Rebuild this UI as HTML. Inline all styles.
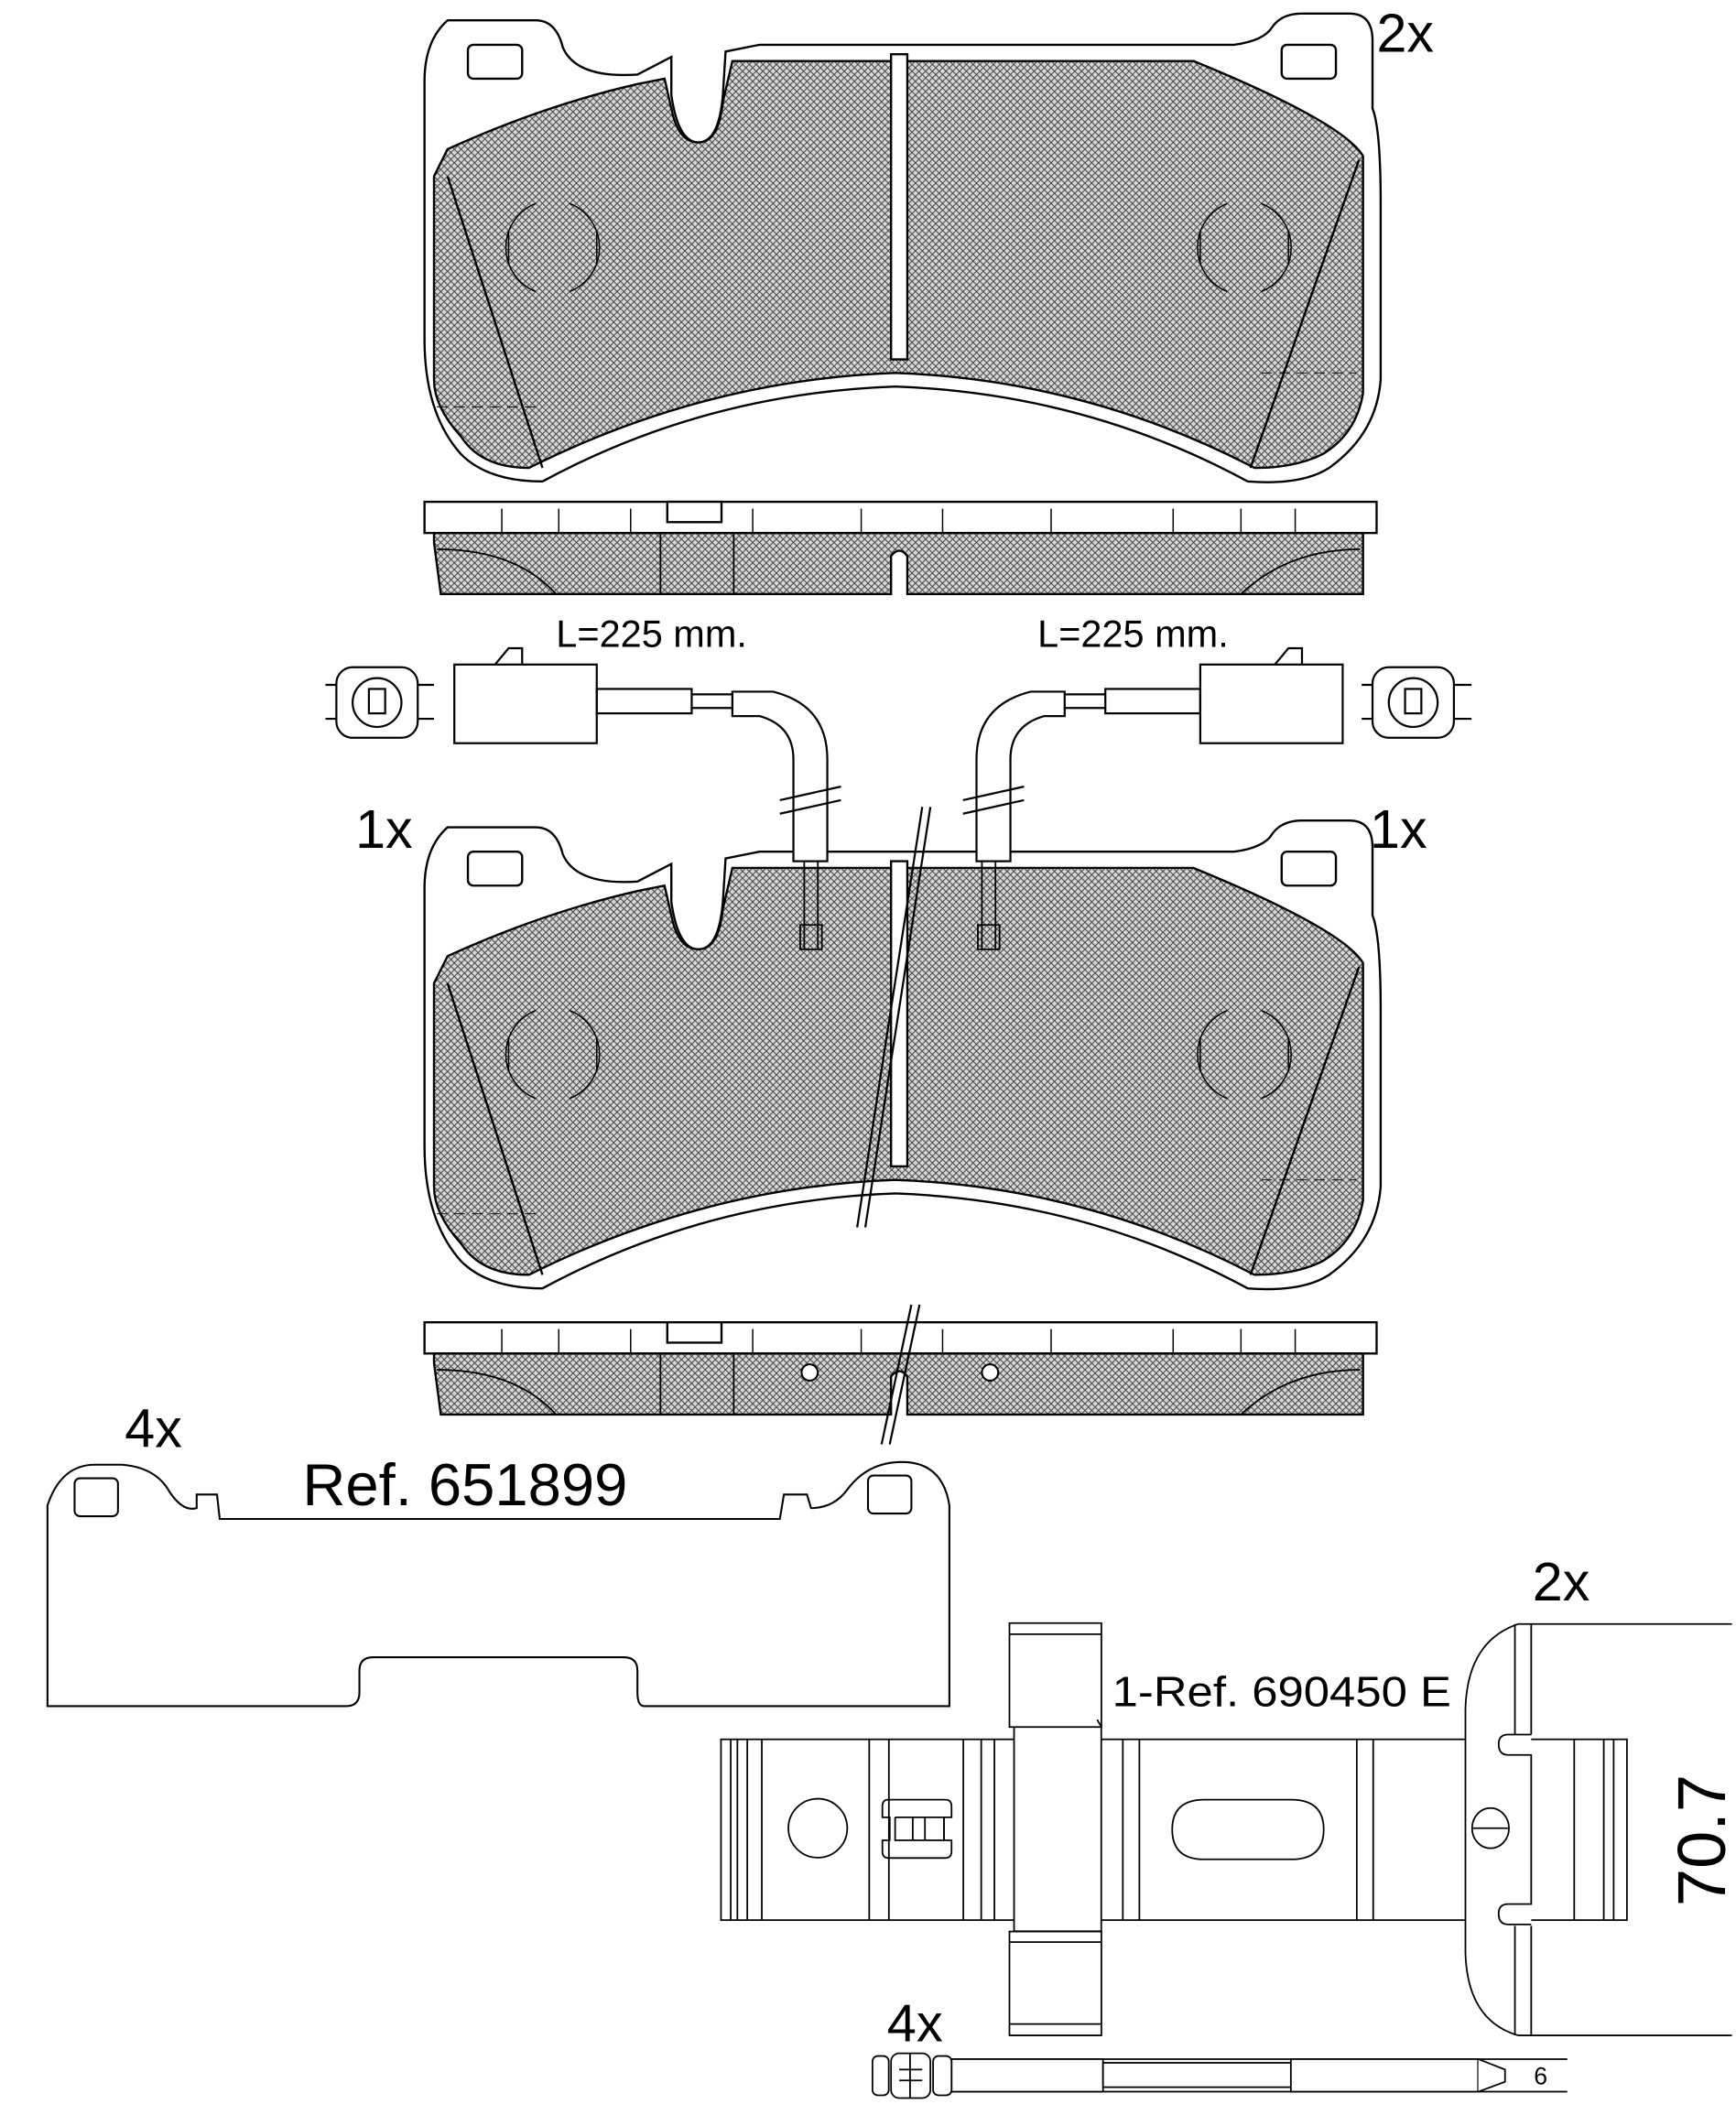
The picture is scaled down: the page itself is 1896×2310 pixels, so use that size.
<!DOCTYPE html>
<html><head><meta charset="utf-8"><style>
html,body{margin:0;padding:0;background:#fff;}
svg{display:block;}
text{font-family:"Liberation Sans",sans-serif;fill:#000;}
</style></head><body>
<svg width="1896" height="2310" viewBox="0 0 1280 1559.5" xmlns="http://www.w3.org/2000/svg">
<defs>
<pattern id="h" width="5" height="5" patternUnits="userSpaceOnUse">
<rect width="5" height="5" fill="#d8d8d8"/>
<path d="M0,0 L5,5 M5,0 L0,5" stroke="#444" stroke-width="0.7"/>
</pattern>
<g id="pad" fill="none" stroke="#000" stroke-width="1.6">
<path d="M330,15 L395,15 Q410,15 415,35 Q425,58 470,55 L495,42 L495,70 Q500,105 515,105 Q530,105 533,70 L535,38 L560,33 L910,33 Q932,30 938,20 Q945,10 960,10 L995,10 Q1012,10 1012,30 L1012,80 Q1018,95 1018,150 L1018,280 Q1015,320 980,345 Q960,358 920,355 Q800,290 660,285 Q520,290 400,355 Q360,355 340,335 Q313,305 313,250 L313,60 Q313,30 330,15 Z" fill="#fff"/>
<path d="M330,110 Q400,78 470,62 L490,58 L495,80 Q500,105 515,105 Q530,105 533,75 L540,45 L880,45 Q990,90 1005,115 L1005,290 Q1000,320 975,335 Q955,345 925,345 Q800,280 660,275 Q520,280 390,345 Q355,345 340,322 Q320,300 320,280 L320,130 Z" fill="url(#h)"/>
<rect x="657" y="40" width="12" height="225" fill="#fff"/>
<path d="M330,130 L400,345 M1002,118 L922,345"/>
<path d="M395,150 A35,35 0 0,0 395,215 M420,150 A35,35 0 0,1 420,215 M375,170 L375,195 M440,170 L440,195" stroke-width="1"/>
<path d="M905,150 A35,35 0 0,0 905,215 M930,150 A35,35 0 0,1 930,215 M885,170 L885,195 M950,170 L950,195" stroke-width="1"/>
<rect x="345" y="33" width="40" height="25" rx="4" fill="#fff"/>
<rect x="945" y="33" width="40" height="25" rx="4" fill="#fff"/>
<path d="M322,300 Q360,300 400,300 M930,275 L1000,275" stroke-width="0.6" stroke-dasharray="8,5"/>
</g>
<g id="side" fill="none" stroke="#000" stroke-width="1.6">
<rect x="313" y="370" width="702" height="23" fill="#fff"/>
<path d="M370,375 V393 M412,375 V393 M465,375 V393 M555,375 V393 M635,375 V393 M695,375 V393 M775,375 V393 M865,375 V393 M915,375 V393 M955,375 V393" stroke-width="1"/>
<rect x="492" y="370" width="40" height="15" fill="#fff"/>
<path d="M320,393 L1005,393 L1005,438 L669,438 L669,410 Q663,402 657,410 L657,438 L325,438 L320,400 Z" fill="url(#h)"/>
<path d="M487,393 V438 M541,393 V438 M322,405 Q380,405 410,438 M1003,405 Q950,405 915,438" stroke-width="1.2"/>
</g>
</defs>

<use href="#pad"/>
<use href="#side"/>
<use href="#pad" transform="translate(0,595)"/>
<use href="#side" transform="translate(0,605)"/>
<circle cx="597" cy="1012" r="6" fill="#fff" stroke="#000" stroke-width="1.4"/>
<circle cx="730" cy="1012" r="6" fill="#fff" stroke="#000" stroke-width="1.4"/>

<g stroke="#000" stroke-width="1.5" fill="none">
<path d="M680,595 L632,905 M686,595 L638,905"/>
<path d="M672,962 L650,1065 M678,962 L656,1065"/>
</g>

<!-- sensors -->
<g fill="none" stroke="#000" stroke-width="1.5">
<rect x="248" y="492" width="60" height="52" rx="12" fill="#fff"/>
<circle cx="278" cy="518" r="18"/><rect x="272" y="508" width="12" height="18"/>
<path d="M240,505 H248 M240,530 H248 M308,505 H320 M308,530 H320"/>
<rect x="335" y="490" width="105" height="58" fill="#fff"/>
<path d="M365,490 L375,478 L385,478 L385,490"/>
<rect x="440" y="508" width="70" height="18"/>
<path d="M510,512 H540 M510,522 H540"/>
<path d="M540,510 L570,510 Q610,520 610,560 L610,635 L585,635 L585,560 Q585,535 560,528 L540,528 Z" fill="#fff"/>
<path d="M575,590 L620,580 M575,600 L620,590"/>
<path d="M593,635 V700 M603,635 V700 M590,682 H606 V700 H590 Z" stroke-width="1.2"/>

<rect x="1012" y="492" width="60" height="52" rx="12" fill="#fff"/>
<circle cx="1042" cy="518" r="18"/><rect x="1036" y="508" width="12" height="18"/>
<path d="M1004,505 H1012 M1004,530 H1012 M1072,505 H1085 M1072,530 H1085"/>
<rect x="885" y="490" width="105" height="58" fill="#fff"/>
<path d="M940,490 L950,478 L960,478 L960,490"/>
<rect x="815" y="508" width="70" height="18"/>
<path d="M785,512 H815 M785,522 H815"/>
<path d="M785,510 L760,510 Q720,520 720,560 L720,635 L745,635 L745,560 Q745,535 770,528 L785,528 Z" fill="#fff"/>
<path d="M710,590 L755,580 M710,600 L755,590"/>
<path d="M724,635 V700 M734,635 V700 M721,682 H737 V700 H721 Z" stroke-width="1.2"/>
</g>

<!-- shim -->
<g fill="none" stroke="#000" stroke-width="1.4">
<path d="M35,1110 Q45,1080 70,1080 L90,1080 Q115,1082 125,1100 Q135,1115 145,1112 L145,1102 L160,1102 L162,1120 L575,1120 L578,1102 L595,1102 L598,1112 Q615,1112 625,1098 Q640,1078 665,1078 Q695,1078 700,1110 L700,1258 L475,1258 Q470,1258 470,1248 L470,1232 Q470,1222 460,1222 L275,1222 Q265,1222 265,1232 L265,1248 Q265,1258 255,1258 L35,1258 Z"/>
<rect x="55" y="1090" width="32" height="28" rx="4"/>
<rect x="640" y="1088" width="32" height="28" rx="4"/>
</g>

<!-- clip -->
<g fill="none" stroke="#000" stroke-width="1.2">
<rect x="531.6" y="1282.5" width="668" height="133.3" fill="#fff"/>
<path d="M538.8,1282.5 V1415.8 M543.7,1282.5 V1415.8 M551,1282.5 V1415.8 M561.7,1282.5 V1415.8 M640.9,1282.5 V1415.8 M655.4,1282.5 V1415.8 M710.3,1282.5 V1415.8 M723.5,1282.5 V1415.8 M733.2,1282.5 V1415.8 M827.9,1282.5 V1415.8 M840.1,1282.5 V1415.8 M1000.4,1282.5 V1415.8 M1012.5,1282.5 V1415.8 M1160.7,1282.5 V1415.8 M1182.5,1282.5 V1415.8 M1189.8,1282.5 V1415.8"/>
<circle cx="603" cy="1348" r="21.7"/>
<path d="M655,1327 H697 Q701.6,1327 701.6,1332 V1340 H696 V1357 H701.6 V1365 Q701.6,1370 697,1370 H655 Q650.6,1370 650.6,1365 V1357 H656 V1340 H650.6 V1332 Q650.6,1327 655,1327 Z"/>
<path d="M656,1340 V1357 M660,1340 H696 V1357 H660 V1340 M673,1340 V1357 M682,1340 V1357"/>
<circle cx="780.8" cy="1348" r="14.6"/>
<path d="M888,1327 H952 Q976,1327 976,1349 Q976,1371 952,1371 H888 Q864.3,1371 864.3,1349 Q864.3,1327 888,1327 Z"/>
<path d="M747.7,1273 H812 V1424 H747.7 Z" fill="#fff"/>
<path d="M744.3,1196.8 H812.1 V1273.4 H744.3 Z M744.3,1205 H812.1 M809,1268 L812.1,1273.4" fill="#fff"/>
<path d="M744.3,1424.2 H812.1 V1500.8 H744.3 Z M744.3,1432 H812.1 M744.3,1492.4 H812.1" fill="#fff"/>
<path d="M1129,1197.5 H1119.4 Q1082,1210 1080.5,1260 V1440 Q1082,1490 1119.4,1500.8 H1129 Z" fill="#fff" stroke="none"/>
<path d="M1277,1197.5 H1119.4 Q1082,1210 1080.5,1260 V1440 Q1082,1490 1119.4,1500.8 H1277"/>
<path d="M1117,1197.5 V1279 M1129,1197.5 V1279 M1117,1420 V1500.8 M1129,1420 V1500.8"/>
<path d="M1129,1279 H1112 Q1105,1279 1105,1286 Q1105,1294 1112,1294 H1129 V1404 H1112 Q1105,1404 1105,1411 Q1105,1419 1112,1419 H1129"/>
<ellipse cx="1099" cy="1348" rx="13.6" ry="14.8"/><path d="M1085.4,1348 H1112.6"/>
</g>

<!-- pin -->
<g fill="#fff" stroke="#000" stroke-width="1.2">
<path d="M701.6,1518.3 H1155.6 M701.6,1542.3 H1155.6" fill="none"/>
<rect x="701.6" y="1518.3" width="111.7" height="24"/>
<rect x="813.3" y="1521" width="138.5" height="18"/>
<rect x="951.8" y="1518.3" width="138" height="24"/>
<path d="M1090,1518.3 L1109.7,1526 V1535 L1090,1542.3"/>
<rect x="643.3" y="1516" width="12" height="29" rx="4"/>
<rect x="657" y="1514" width="29" height="33" rx="6"/>
<rect x="688" y="1516" width="13.6" height="29" rx="4"/>
<path d="M663,1526 H680 M663,1534 H680 M671,1514 V1547" fill="none"/>
</g>

<!-- labels -->
<text x="1015" y="38" font-size="40">2x</text>
<text x="262" y="625" font-size="40">1x</text>
<text x="1010" y="625" font-size="40">1x</text>
<text x="410" y="477" font-size="28">L=225 mm.</text>
<text x="765" y="477" font-size="28">L=225 mm.</text>
<text x="92" y="1067" font-size="40">4x</text>
<text x="223" y="1110" font-size="44">Ref. 651899</text>
<text x="1130" y="1180" font-size="40">2x</text>
<text x="820" y="1258" font-size="31" textLength="250" lengthAdjust="spacingAndGlyphs">1-Ref. 690450 E</text>
<text x="654" y="1505" font-size="39">4x</text>
<text x="1131" y="1537" font-size="18">6</text>
<text transform="translate(1272,1357) rotate(-90)" font-size="50" text-anchor="middle">70.7</text>
</svg>
</body></html>
